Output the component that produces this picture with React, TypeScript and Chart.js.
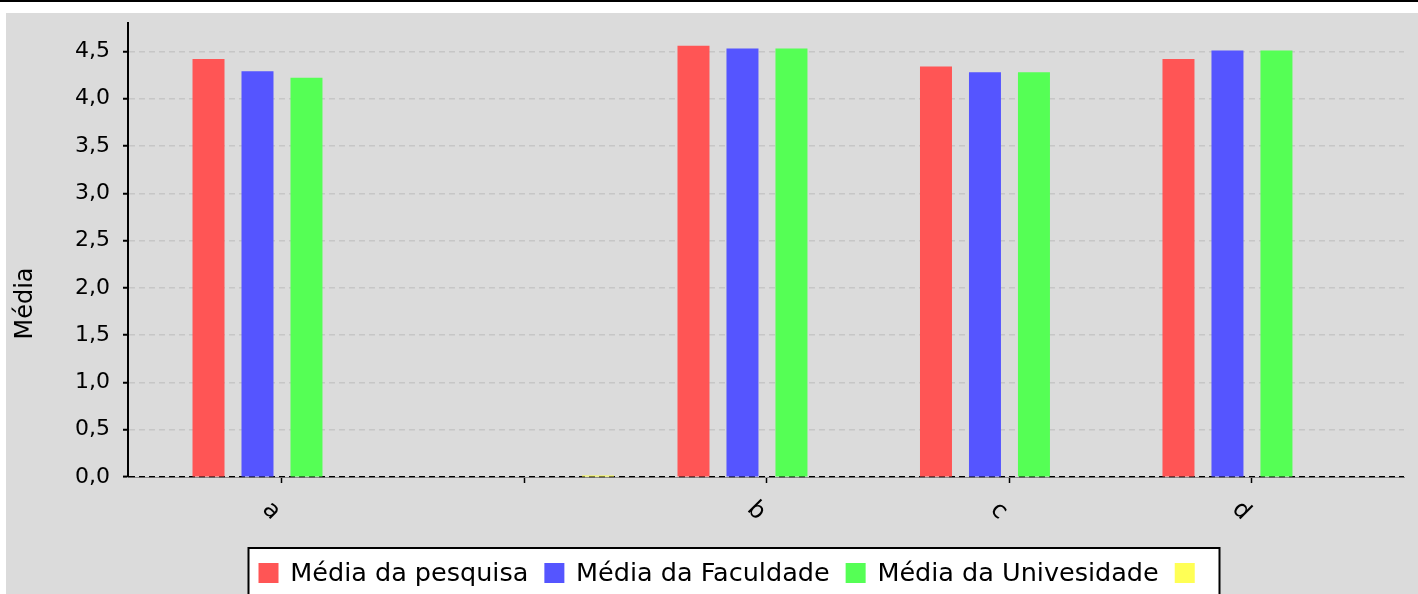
import { useEffect, useRef } from 'react';
import { Chart, registerables } from 'chart.js';

Chart.register(...registerables);

// ---- data ----
const categories = ['a', '', 'b', 'c', 'd'];
const seriesNames = ['Média da pesquisa', 'Média da Faculdade', 'Média da Univesidade', ''];
const mediaPesquisa = [4.42, null, 4.56, 4.34, 4.42];
const mediaFaculdade = [4.29, null, 4.53, 4.28, 4.51];
const mediaUniversidade = [4.22, null, 4.53, 4.28, 4.51];
const serieSemNome = [null, 0, null, null, null];
const yTickValues = [0, 0.5, 1, 1.5, 2, 2.5, 3, 3.5, 4, 4.5];
const yAxisTitle = 'Média';

// ---- styles ----
const seriesColors = ['#FF5555', '#5555FF', '#55FF55', '#FFFF55'];
const FONT = '"DejaVu Sans", sans-serif';
const BG = '#dbdbdb';
const W = 1418;
const H = 594;

const backgroundPlugin = {
  id: 'bgPlugin',
  beforeDraw(chart: any) {
    const { ctx } = chart;
    ctx.save();
    ctx.fillStyle = '#ffffff';
    ctx.fillRect(0, 0, chart.width, chart.height);
    ctx.fillStyle = BG;
    ctx.fillRect(6, 13, chart.width - 6, chart.height - 13);
    ctx.fillStyle = '#000000';
    ctx.fillRect(0, 0, chart.width, 2);
    ctx.restore();
  },
};

const decorPlugin = {
  id: 'decorPlugin',
  afterDraw(chart: any) {
    const { ctx, chartArea } = chart;
    const xs = chart.scales.x;
    ctx.save();
    // rotated category labels
    ctx.fillStyle = '#000';
    ctx.font = `24px ${FONT}`;
    ctx.textAlign = 'center';
    ctx.textBaseline = 'middle';
    categories.forEach((c, i) => {
      if (!c) return;
      const x = xs.getPixelForValue(i);
      ctx.save();
      ctx.translate(x - 11, chartArea.bottom + 34);
      ctx.rotate(Math.PI / 4);
      ctx.fillText(c, 0, 0);
      ctx.restore();
    });
    // y-axis title
    ctx.save();
    ctx.font = `24px ${FONT}`;
    ctx.translate(26, (13 + chart.height) / 2);
    ctx.rotate(-Math.PI / 2);
    ctx.textAlign = 'center';
    ctx.textBaseline = 'middle';
    ctx.fillText(yAxisTitle, 0, 0);
    ctx.restore();

    // legend
    const fontSize = 25.5;
    ctx.font = `${fontSize}px ${FONT}`;
    const box = 20;
    const gapText = fontSize / 2 - 1;
    const gapItem = 16;
    const widths = seriesNames.map((n) => box + gapText + (n ? ctx.measureText(n).width : 0));
    const total = widths.reduce((a, b) => a + b, 0) + gapItem * (widths.length - 1);
    const padL = 10;
    const padR = 13;
    const boxW = total + padL + padR;
    const centerX = (chartArea.left + chartArea.right) / 2 - 32;
    const left = centerX - boxW / 2;
    const top = chartArea.bottom + 71;
    ctx.fillStyle = '#ffffff';
    ctx.fillRect(left, top, boxW, 80);
    ctx.strokeStyle = '#000';
    ctx.lineWidth = 2;
    ctx.strokeRect(left, top, boxW, 80);
    let x = left + padL;
    const cy = top + 25;
    ctx.textAlign = 'left';
    ctx.textBaseline = 'middle';
    seriesNames.forEach((n, i) => {
      ctx.fillStyle = seriesColors[i];
      ctx.fillRect(x, cy - box / 2, box, box);
      if (n) {
        ctx.fillStyle = '#000';
        ctx.fillText(n, x + box + gapText, cy + 1);
      }
      x += widths[i] + gapItem;
    });
    ctx.restore();
  },
};

export default function App() {
  const ref = useRef<HTMLCanvasElement | null>(null);

  useEffect(() => {
    if (!ref.current) return;
    const seriesData = [mediaPesquisa, mediaFaculdade, mediaUniversidade, serieSemNome];
    const chart = new Chart(ref.current, {
      type: 'bar',
      data: {
        labels: categories.map((_, i) => i),
        datasets: seriesData.map((d, i) => ({
          label: seriesNames[i],
          data: d,
          backgroundColor: seriesColors[i],
          borderWidth: 0,
          categoryPercentage: 0.808,
          barPercentage: 0.653,
          minBarLength: i === 3 ? 1.5 : 0,
        })),
      },
      options: {
        responsive: false,
        animation: false,
        devicePixelRatio: 1,
        layout: { padding: { left: 64, right: 14, top: 23, bottom: 0 } },
        plugins: {
          legend: { display: false },
          tooltip: { enabled: false },
          title: { display: false },
        },
        scales: {
          x: {
            type: 'linear',
            offset: false,
            min: -0.635,
            max: 4.627,
            afterBuildTicks: (scale: any) => {
              scale.ticks = categories.map((_, i) => ({ value: i }));
            },
            afterFit: (scale: any) => {
              scale.height = H - 477;
            },
            ticks: { display: false },
            grid: {
              offset: false,
              drawOnChartArea: false,
              drawTicks: true,
              tickLength: 6,
              tickColor: '#000',
              tickWidth: 1.5,
            },
            border: { display: true, color: '#8a8a8a', width: 1, z: -1 },
          },
          y: {
            min: 0,
            max: 4.8,
            afterBuildTicks: (scale: any) => {
              scale.ticks = yTickValues.map((v) => ({ value: v }));
            },
            afterFit: (scale: any) => {
              scale.width = 64;
            },
            ticks: {
              color: '#000',
              padding: 13,
              font: { family: FONT, size: 22, lineHeight: 0.9 },
              callback: (v: any) => Number(v).toFixed(1).replace('.', ','),
            },
            grid: {
              color: (c: any) => (c.tick && c.tick.value === 0 ? '#000000' : '#c6c6c6'),
              lineWidth: (c: any) => (c.tick && c.tick.value === 0 ? 1.2 : 1.5),
              drawTicks: true,
              tickLength: 5,
              tickColor: '#000',
              tickWidth: 2,
            },
            border: { display: true, color: '#000', width: 2, dash: [6, 4] },
          },
        },
      },
      plugins: [backgroundPlugin, decorPlugin],
    } as any);
    return () => chart.destroy();
  }, []);

  return (
    <div style={{ position: 'absolute', left: 0, top: 0, width: W, height: H }}>
      <canvas ref={ref} width={W} height={H} style={{ display: 'block', width: W, height: H }} />
    </div>
  );
}
